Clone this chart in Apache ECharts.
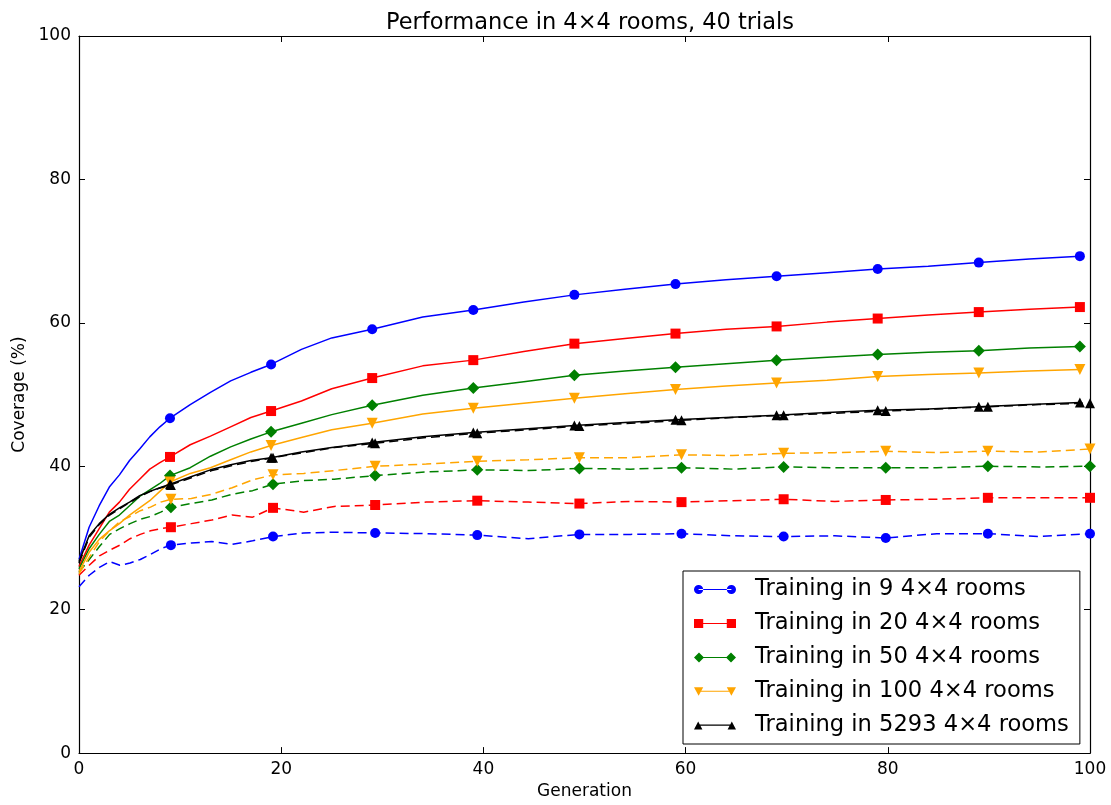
<!DOCTYPE html>
<html>
<head>
<meta charset="utf-8">
<script src="https://cdn.jsdelivr.net/npm/echarts@6/dist/echarts.min.js"></script>
<style>
html, body { margin: 0; padding: 0; background: #fff; }
#chart { width: 1111px; height: 805px; }
</style>
</head>
<body>
<div id="chart"></div>
<script>
var myChart = echarts.init(document.getElementById('chart'));

// generations sampled (training curves); test curves run 0..100
var gens = [0, 1, 2, 3, 4, 5, 6, 7, 8, 9, 11, 13, 15, 17, 19, 22, 25, 29, 34, 39, 44, 49, 54, 59, 64, 69, 74, 79, 84, 89, 94, 99];
var markGens = [9, 19, 29, 39, 49, 59, 69, 79, 89, 99];

// training curves (solid)
var train9 = [27.0, 31.5, 34.5, 37.1, 38.8, 40.8, 42.4, 44.1, 45.5, 46.7, 48.6, 50.3, 51.9, 53.1, 54.2, 56.3, 57.9, 59.1, 60.8, 61.8, 62.9, 63.9, 64.7, 65.4, 66.0, 66.5, 67.0, 67.5, 67.9, 68.4, 68.9, 69.3];
var train20 = [26.0, 29.0, 31.3, 33.6, 35.0, 36.8, 38.2, 39.6, 40.5, 41.3, 43.0, 44.2, 45.5, 46.8, 47.7, 49.1, 50.8, 52.3, 54.0, 54.8, 56.0, 57.1, 57.8, 58.5, 59.1, 59.5, 60.1, 60.6, 61.1, 61.5, 61.9, 62.2];
var train50 = [25.7, 28.5, 30.5, 32.3, 33.2, 34.5, 35.8, 36.7, 37.6, 38.7, 39.8, 41.4, 42.7, 43.8, 44.8, 46.0, 47.2, 48.5, 49.9, 50.9, 51.8, 52.7, 53.3, 53.8, 54.3, 54.8, 55.2, 55.6, 55.9, 56.1, 56.5, 56.7];
var train100 = [25.3, 28.0, 29.8, 31.0, 32.0, 33.2, 34.2, 35.2, 36.5, 37.8, 39.0, 39.8, 40.9, 42.0, 42.9, 44.0, 45.1, 46.0, 47.3, 48.1, 48.8, 49.5, 50.1, 50.7, 51.2, 51.6, 52.0, 52.5, 52.8, 53.0, 53.3, 53.5];
var train5293 = [26.7, 30.3, 32.0, 33.3, 34.2, 35.0, 35.9, 36.5, 37.0, 37.5, 38.5, 39.5, 40.2, 40.8, 41.2, 42.0, 42.6, 43.3, 44.1, 44.7, 45.2, 45.7, 46.1, 46.5, 46.8, 47.1, 47.5, 47.8, 48.0, 48.3, 48.6, 48.9];

// test curves (dashed)
var test9 = [23.2, 24.8, 25.9, 26.7, 26.2, 26.5, 27.0, 27.7, 28.5, 29.0, 29.3, 29.5, 29.1, 29.6, 30.2, 30.7, 30.8, 30.7, 30.6, 30.4, 29.9, 30.5, 30.5, 30.6, 30.3, 30.2, 30.3, 30.0, 30.6, 30.6, 30.2, 30.6];
var test20 = [24.8, 26.2, 27.5, 28.3, 29.0, 29.9, 30.5, 31.0, 31.3, 31.5, 32.0, 32.5, 33.2, 32.9, 34.2, 33.6, 34.4, 34.6, 35.0, 35.2, 35.0, 34.8, 35.1, 35.0, 35.2, 35.4, 35.1, 35.3, 35.4, 35.6, 35.6, 35.6];
var test50 = [25.2, 27.0, 28.8, 30.5, 31.3, 32.0, 32.6, 33.0, 33.6, 34.3, 34.8, 35.3, 36.1, 36.6, 37.5, 38.0, 38.2, 38.7, 39.2, 39.5, 39.4, 39.7, 39.6, 39.8, 39.6, 39.9, 39.8, 39.8, 39.8, 40.0, 39.9, 40.0];
var test100 = [25.0, 27.3, 29.5, 31.0, 32.3, 33.0, 33.8, 34.3, 35.0, 35.4, 35.5, 36.1, 37.0, 38.1, 38.8, 39.0, 39.4, 40.0, 40.3, 40.7, 40.9, 41.2, 41.2, 41.6, 41.5, 41.8, 41.9, 42.1, 41.9, 42.1, 42.0, 42.4];
var test5293 = [26.5, 30.1, 31.9, 33.2, 34.1, 35.0, 35.8, 36.5, 37.0, 37.4, 38.4, 39.4, 40.1, 40.7, 41.2, 41.9, 42.6, 43.2, 44.0, 44.6, 45.1, 45.6, 46.0, 46.4, 46.8, 47.1, 47.4, 47.7, 48.0, 48.3, 48.6, 48.8];

var names = ['Training in 9 4×4 rooms', 'Training in 20 4×4 rooms', 'Training in 50 4×4 rooms', 'Training in 100 4×4 rooms', 'Training in 5293 4×4 rooms'];
var colors = ['#0000ff', '#ff0000', '#008000', '#ffa500', '#000000'];
var symbols = ['circle', 'rect', 'diamond', 'triangle', 'triangle'];
var sizes = [10, 10, 12, 11, 10];
var rotates = [0, 0, 0, 180, 0];
var trainData = [train9, train20, train50, train100, train5293];
var testData = [test9, test20, test50, test100, test5293];

// legend icons: line with a marker at each end
var bar = 'M5,4.4 L37,4.4 L37,5.6 L5,5.6 Z ';
var icons = [
	'path://M0.5,5 A4.5,4.5 0 1,0 9.5,5 A4.5,4.5 0 1,0 0.5,5 Z ' + bar + 'M32.5,5 A4.5,4.5 0 1,0 41.5,5 A4.5,4.5 0 1,0 32.5,5 Z',
	'path://M0.5,0.5 L9.5,0.5 L9.5,9.5 L0.5,9.5 Z ' + bar + 'M32.5,0.5 L41.5,0.5 L41.5,9.5 L32.5,9.5 Z',
	'path://M5,0 L10,5 L5,10 L0,5 Z ' + bar + 'M37,0 L42,5 L37,10 L32,5 Z',
	'path://M0.5,1 L9.5,1 L5,9.5 Z ' + bar + 'M32.5,1 L41.5,1 L37,9.5 Z',
	'path://M5,1.5 L9,9 L1,9 Z ' + bar + 'M37,1.5 L41,9 L33,9 Z'
];

function pairs(xs, ys, scale) {
	return xs.map(function (g, i) { return [g * scale, ys[i]]; });
}

function symbolFn(sym) {
	return function (value, params) {
		return markGens.indexOf(gens[params.dataIndex]) >= 0 ? sym : 'none';
	};
}

var series = [];
for (var k = 0; k < 5; k++) {
	series.push({
		name: names[k],
		type: 'line',
		data: pairs(gens, trainData[k], 1),
		symbol: symbolFn(symbols[k]),
		symbolSize: sizes[k],
		symbolRotate: rotates[k],
		showSymbol: true,
		lineStyle: { color: colors[k], width: 1.5 },
		itemStyle: { color: colors[k] },
		animation: false,
		z: 2 + k
	});
	series.push({
		name: names[k].replace('Training', 'Testing'),
		type: 'line',
		data: pairs(gens, testData[k], 100 / 99),
		symbol: symbolFn(symbols[k]),
		symbolSize: sizes[k],
		symbolRotate: rotates[k],
		showSymbol: true,
		lineStyle: { color: colors[k], width: 1.5, type: [9, 5] },
		itemStyle: { color: colors[k] },
		animation: false,
		z: 2 + k
	});
}

var font = 'DejaVu Sans';
var axisCommon = {
	min: 0, max: 100, interval: 20,
	axisLine: { show: true, onZero: false, lineStyle: { color: '#000', width: 1.2 } },
	axisTick: { show: true, inside: true, length: 6, lineStyle: { color: '#000', width: 1 } },
	splitLine: { show: false }
};

myChart.setOption({
	backgroundColor: '#fff',
	animation: false,
	title: {
		text: 'Performance in 4×4 rooms, 40 trials',
		left: 585, top: 7, textAlign: 'center',
		textStyle: { fontFamily: font, fontSize: 22.5, fontWeight: 'normal', color: '#000' }
	},
	grid: { left: 79, right: 21, top: 36, bottom: 50 },
	legend: {
		orient: 'vertical',
		left: 683, top: 571,
		padding: [6, 11, 6, 11],
		itemGap: 9,
		itemWidth: 42, itemHeight: 10,
		backgroundColor: '#fff',
		borderColor: '#000', borderWidth: 1, borderRadius: 0,
		itemStyle: { borderWidth: 0 },
		textStyle: { fontFamily: font, fontSize: 22.6, color: '#000', lineHeight: 25, padding: [0, 0, 0, 14] },
		data: names.map(function (n, i) { return { name: n, icon: icons[i] }; })
	},
	xAxis: [
		Object.assign({}, axisCommon, {
			type: 'value', position: 'bottom',
			name: 'Generation', nameLocation: 'middle', nameGap: 29,
			nameTextStyle: { fontFamily: font, fontSize: 17, color: '#000' },
			axisLabel: { fontFamily: font, fontSize: 17, color: '#000', margin: 8 }
		}),
		Object.assign({}, axisCommon, {
			type: 'value', position: 'top', axisLabel: { show: false }
		})
	],
	yAxis: [
		Object.assign({}, axisCommon, {
			type: 'value', position: 'left',
			name: 'Coverage (%)', nameLocation: 'middle', nameGap: 50,
			nameTextStyle: { fontFamily: font, fontSize: 17, color: '#000' },
			axisLabel: { fontFamily: font, fontSize: 17, color: '#000', margin: 8 }
		}),
		Object.assign({}, axisCommon, {
			type: 'value', position: 'right', axisLabel: { show: false }
		})
	],
	series: series
});

window.addEventListener('resize', function () {
	myChart.resize();
});
</script>
</body>
</html>
